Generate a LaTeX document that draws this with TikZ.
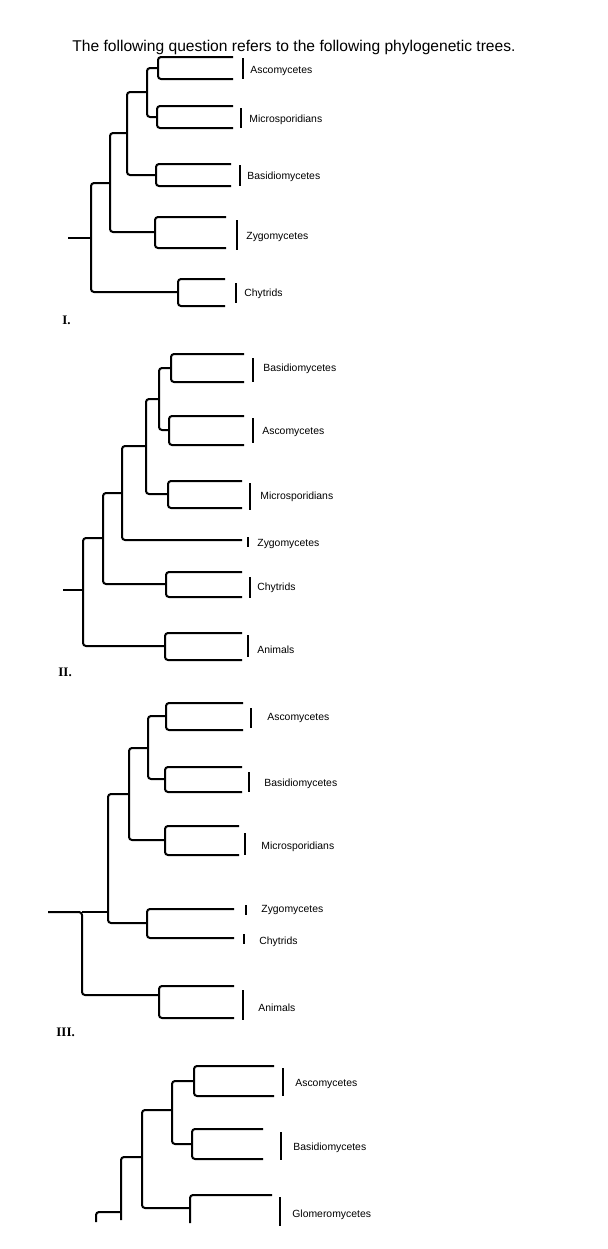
\documentclass[tikz,border=0pt]{standalone}
\usepackage{fontspec}
\setmainfont{Liberation Sans}
\newfontfamily\serifb{Liberation Serif}
\newcommand\brk[5]{\draw[br] (#2) -- (#1,#3) -- (#1,#5) -- (#4);}
\begin{document}
\begin{tikzpicture}[x=0.5pt,y=-0.5pt,
  br/.style={line width=1pt,rounded corners=1.5pt},
  bar/.style={line width=1pt},
  lab/.style={anchor=west,inner sep=0pt,font=\fontsize{5.2}{6}\selectfont},
  num/.style={anchor=west,inner sep=0pt,font=\serifb\bfseries\fontsize{6.5}{7}\selectfont}]
\useasboundingbox (0,0) rectangle (608,1249);
\node[anchor=west,inner sep=0pt,font=\fontsize{7.8}{9}\selectfont] (title) at (72,47) {The following question refers to the following phylogenetic trees.};
% ---------- Tree I
\foreach \n/\x/\y in {a1/233/57,a2/233/79,m1/233/106,m2/233/128,b1/231/164,b2/231/186,z1/226/217,z2/226/248,c1/225/279,c2/225/306,
  n1/158/68,n2/157/117,n3/147/92,n4/156/175,n5/127/133,n6/155/232,n7/110/183,n8/178/292,r/91/238,s/68/238}
  \coordinate (I\n) at (\x,\y);
\draw[br] (Ia1) -- (158,57) -- (158,79) -- (Ia2);
\draw[br] (Im1) -- (157,106) -- (157,128) -- (Im2);
\draw[br] (In1) -- (147,68) -- (147,117) -- (In2);
\draw[br] (Ib1) -- (156,164) -- (156,186) -- (Ib2);
\draw[br] (In3) -- (127,92) -- (127,175) -- (In4);
\draw[br] (Iz1) -- (155,217) -- (155,248) -- (Iz2);
\draw[br] (In5) -- (110,133) -- (110,232) -- (In6);
\draw[br] (Ic1) -- (178,279) -- (178,306) -- (Ic2);
\draw[br] (In7) -- (91,183) -- (91,292) -- (In8);
\draw[br] (Is) -- (Ir);
\foreach \x/\ya/\yb in {243/58/79,241/108/128,240/165/186,237/220/250,236/283/303} \draw[bar] (\x,\ya) -- (\x,\yb);
\node[lab] (IL1) at (250,71) {Ascomycetes};
\node[lab] (IL2) at (249,120) {Microsporidians};
\node[lab] (IL3) at (247,177) {Basidiomycetes};
\node[lab] (IL4) at (246,237) {Zygomycetes};
\node[lab] (IL5) at (244,294) {Chytrids};
\node[num] (Inum) at (62,320) {I.};
% ---------- Tree II
\foreach \n/\x/\y in {b1/244/354,b2/244/382,a1/244/416,a2/244/445,m1/242/481,m2/242/508,z/242/540,c1/242/572,c2/242/597,an1/242/633,an2/242/660,
  n1/171/368,n2/169/430,n3/159/399,n4/168/494,n5/146/446,n6/122/493,n7/166/584,n8/103/538,n9/165/646,r/83/590,s/63/590}
  \coordinate (II\n) at (\x,\y);
\draw[br] (IIb1) -- (171,354) -- (171,382) -- (IIb2);
\draw[br] (IIa1) -- (169,416) -- (169,445) -- (IIa2);
\draw[br] (IIn1) -- (159,368) -- (159,430) -- (IIn2);
\draw[br] (IIm1) -- (168,481) -- (168,508) -- (IIm2);
\draw[br] (IIn3) -- (146,399) -- (146,494) -- (IIn4);
\draw[br] (IIn5) -- (122,446) -- (122,540) -- (IIz);
\draw[br] (IIc1) -- (166,572) -- (166,597) -- (IIc2);
\draw[br] (IIn6) -- (103,493) -- (103,584) -- (IIn7);
\draw[br] (IIan1) -- (165,633) -- (165,660) -- (IIan2);
\draw[br] (IIn8) -- (83,538) -- (83,646) -- (IIn9);
\draw[br] (IIs) -- (IIr);
\foreach \x/\ya/\yb in {253/358/382,253/418/443,250/483/510,248/537/547,250/577/598,248/635/657} \draw[bar] (\x,\ya) -- (\x,\yb);
\node[lab] (IIL1) at (263,369) {Basidiomycetes};
\node[lab] (IIL2) at (262,432) {Ascomycetes};
\node[lab] (IIL3) at (260,497) {Microsporidians};
\node[lab] (IIL4) at (257,544) {Zygomycetes};
\node[lab] (IIL5) at (257,588) {Chytrids};
\node[lab] (IIL6) at (257,650) {Animals};
\node[num] (IInum) at (58,672) {II.};
% ---------- Tree III
\foreach \n/\x/\y in {a1/243/703,a2/243/730,b1/242/767,b2/242/792,m1/239/826,m2/239/855,z/234/909,c/234/938,an1/234/986,an2/234/1018,
  n1/166/716,n2/165/779,n3/148/748,n4/165/840,n5/129/794,n6/147/923,n7/108/912,n8/159/995,s/48/912}
  \coordinate (III\n) at (\x,\y);
\draw[br] (IIIa1) -- (166,703) -- (166,730) -- (IIIa2);
\draw[br] (IIIb1) -- (165,767) -- (165,792) -- (IIIb2);
\draw[br] (IIIn1) -- (148,716) -- (148,779) -- (IIIn2);
\draw[br] (IIIm1) -- (165,826) -- (165,855) -- (IIIm2);
\draw[br] (IIIn3) -- (129,748) -- (129,840) -- (IIIn4);
\draw[br] (IIIz) -- (147,909) -- (147,938) -- (IIIc);
\draw[br] (IIIn5) -- (108,794) -- (108,923) -- (IIIn6);
\draw[br] (IIIan1) -- (159,986) -- (159,1018) -- (IIIan2);
\draw[br] (IIIs) -- (82,912) -- (82,995) -- (IIIn8);
\draw[br] (82,912) -- (IIIn7);
\foreach \x/\ya/\yb in {251/708/728,249/772/792,245/833/855,246/905/915,244/934/944,243/990/1020} \draw[bar] (\x,\ya) -- (\x,\yb);
\node[lab] (IIIL1) at (267,718) {Ascomycetes};
\node[lab] (IIIL2) at (264,784) {Basidiomycetes};
\node[lab] (IIIL3) at (261,847) {Microsporidians};
\node[lab] (IIIL4) at (261,910) {Zygomycetes};
\node[lab] (IIIL5) at (259,942) {Chytrids};
\node[lab] (IIIL6) at (258,1008) {Animals};
\node[num] (IIInum) at (56,1032) {III.};
% ---------- Tree IV
\foreach \n/\x/\y in {a1/274/1066,a2/274/1096,b1/263/1129,b2/263/1159,g/272/1195,n1/194/1081,n2/192/1144,n3/172/1110,n4/190/1208,n5/142/1157,s/96/1222}
  \coordinate (IV\n) at (\x,\y);
\draw[br] (IVa1) -- (194,1066) -- (194,1096) -- (IVa2);
\draw[br] (IVb1) -- (192,1129) -- (192,1159) -- (IVb2);
\draw[br] (IVn1) -- (172,1081) -- (172,1144) -- (IVn2);
\draw[br] (IVg) -- (190,1195) -- (190,1223);
\draw[br] (IVn3) -- (142,1110) -- (142,1208) -- (IVn4);
\draw[br] (IVn5) -- (121,1157) -- (121,1220);
\draw[br] (IVs) -- (96,1212) -- (121,1212);
\foreach \x/\ya/\yb in {283/1068/1096,281/1132/1160,280/1197/1226} \draw[bar] (\x,\ya) -- (\x,\yb);
\node[lab] (IVL1) at (295,1084) {Ascomycetes};
\node[lab] (IVL2) at (293,1148) {Basidiomycetes};
\node[lab] (IVL3) at (292,1215) {Glomeromycetes};
\end{tikzpicture}
\end{document}
